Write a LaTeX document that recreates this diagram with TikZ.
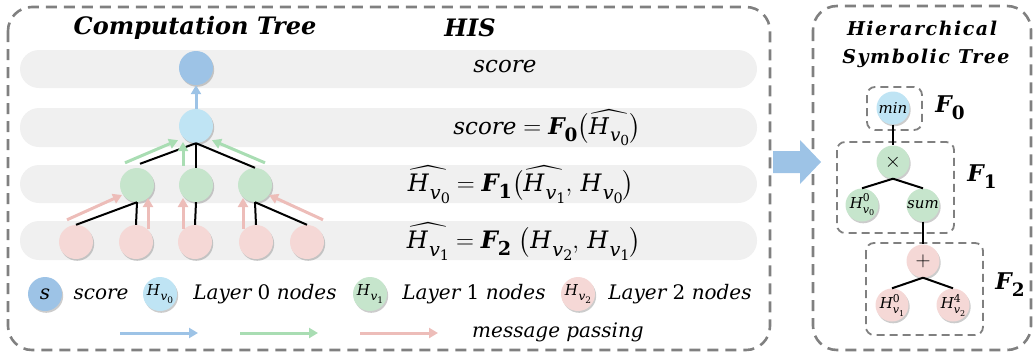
\documentclass[tikz,border=0pt]{standalone}
\usepackage{amsmath}
\usepackage{graphicx}
\usepackage{fontspec}
\setmainfont{DejaVu Serif}
\usetikzlibrary{arrows.meta,shadows}
\definecolor{cscore}{HTML}{9DC3E6}
\definecolor{cl0}{HTML}{BFE4F4}
\definecolor{cl1}{HTML}{C6E5CC}
\definecolor{cl2}{HTML}{F5D8D6}
\definecolor{aga}{HTML}{A9DDB3}
\definecolor{apa}{HTML}{EDBDB9}
\definecolor{band}{HTML}{F0F0F0}
\definecolor{dgray}{HTML}{808080}
% text-mode pieces with large subscripts
\newcommand{\Hv}[1]{\mbox{\itshape H\kern.05em\raisebox{-.32em}{\scalebox{.8}{v\raisebox{-.22em}{\scalebox{.75}{\upshape #1}}}}}}
\newcommand{\Fb}[1]{\mbox{\bfseries\itshape F\raisebox{-.3em}{\scalebox{.8}{\upshape #1}}}}
\newcommand{\hH}[1]{\widehat{\Hv{#1}}}
\newcommand{\Hvs}[2]{\mbox{\itshape H\rlap{\raisebox{.45em}{\scalebox{.72}{\upshape #1}}}\raisebox{-.32em}{\scalebox{.74}{v\raisebox{-.22em}{\scalebox{.72}{\upshape #2}}}}}}
\tikzset{
  outerbox/.style={draw=dgray,line width=2.6pt,dash pattern=on 11pt off 7pt,rounded corners=24pt},
  innerbox/.style={draw=dgray,line width=1.8pt,dash pattern=on 8pt off 5pt,rounded corners=8pt},
  bandbox/.style={fill=band,rounded corners=19pt},
  cnode/.style={circle,minimum size=34pt,inner sep=0pt,drop shadow={shadow xshift=1.2pt,shadow yshift=-1.8pt,opacity=0.4}},
  ns/.style={cnode,fill=cscore},
  n0/.style={cnode,fill=cl0},
  n1/.style={cnode,fill=cl1},
  n2/.style={cnode,fill=cl2},
  edge/.style={line width=2pt,black},
  msg/.style={line width=3pt,-{Triangle[length=9pt,width=10pt]}},
  title/.style={font=\fontsize{24}{28}\selectfont\bfseries\itshape},
  rtitle/.style={font=\fontsize{19}{22}\selectfont\bfseries\itshape\addfontfeature{LetterSpace=8}},
  eq/.style={font=\fontsize{23}{27}\selectfont},
  eqb/.style={font=\fontsize{24}{28}\selectfont},
  leg/.style={font=\fontsize{20}{24}\selectfont\itshape},
  smalllab/.style={font=\fontsize{15}{17}\selectfont},
  treelab/.style={font=\fontsize{15}{18}\selectfont},
}
\begin{document}
\begin{tikzpicture}[x=1pt,y=-1pt]
\useasboundingbox (0,0) rectangle (1036,354);
% bands
\fill[bandbox] (20,50) rectangle (757,88);
\fill[bandbox] (20,108) rectangle (757,147);
\fill[bandbox] (20,165) rectangle (757,203);
\fill[bandbox] (20,221) rectangle (757,260);
% outer boxes
\draw[outerbox] (8,7) rectangle (770,350);
\draw[outerbox] (813,6) rectangle (1031,350);
% titles
\node[title] (tct) at (195,28) {Computation Tree};
\node[title] (this) at (470,28) {HIS};
\node[rtitle] (th1) at (922,28) {Hierarchical};
\node[rtitle] (th2) at (926,58) {Symbolic Tree};
% computation tree nodes
\node[ns] (sc) at (196,68) {};
\node[n0] (l0) at (196,126) {};
\node[n1] (l1a) at (137,185) {};
\node[n1] (l1b) at (196,185) {};
\node[n1] (l1c) at (255,185) {};
\node[n2] (l2a) at (76,242) {};
\node[n2] (l2b) at (136,242) {};
\node[n2] (l2c) at (195,242) {};
\node[n2] (l2d) at (256,242) {};
\node[n2] (l2e) at (307,242) {};
% black edges
\draw[edge] (l0.south) -- ([shift={(3,-4)}]l1a.north);
\draw[edge] (l0.south) -- (l1b.north);
\draw[edge] (l0.south) -- (l1c.north);
\draw[edge] (l1a.south) -- (l2a.north);
\draw[edge] (l1a.south) -- (l2b.north);
\draw[edge] (l1b.south) -- (l2c.north);
\draw[edge] (l1c.south) -- (l2d.north);
\draw[edge] (l1c.south) -- (l2e.north);
% message arrows
\draw[msg,cscore] (l0.north) -- (sc.south);
\draw[msg,aga] ([shift={(-12,-5)}]l1a.north) -- ([shift={(-18,-3)}]l0.south);
\draw[msg,aga] ([shift={(-13,-2)}]l1b.north) -- ([shift={(-13,16)}]l0.center);
\draw[msg,aga] ([shift={(10,-5)}]l1c.north) -- ([shift={(16,-3)}]l0.south);
\draw[msg,apa] ([shift={(-9,-5)}]l2a.north) -- ([shift={(-15,10)}]l1a.center);
\draw[msg,apa] ([shift={(12,4)}]l2b.north) -- ([shift={(11,13)}]l1a.center);
\draw[msg,apa] ([shift={(-12,4)}]l2c.north) -- ([shift={(-13,13)}]l1b.center);
\draw[msg,apa] ([shift={(-13,4)}]l2d.north) -- ([shift={(-12,13)}]l1c.center);
\draw[msg,apa] ([shift={(16,-5)}]l2e.north) -- ([shift={(14,10)}]l1c.center);
% HIS formulas
\node[eq] (r1) at (505,67) {\itshape score};
\node[eq] (r2) at (547,128) {$\mbox{\itshape score} = \Fb{0}\bigl(\hH{0}\bigr)$};
\node[eqb] (r3) at (521,185) {$\hH{0} = \Fb{1}\bigl(\hH{1},\, \Hv{0}\bigr)$};
\node[eqb] (r4) at (524,242) {$\hH{1} = \Fb{2}\ \bigl(\Hv{2},\, \Hv{1}\bigr)$};
% legend
\node[ns] (lgs) at (45,294) {\fontsize{20}{24}\selectfont\itshape s};
\node[leg] (lgst) at (101,294) {score};
\node[n0,smalllab] (lg0) at (160,294) {\Hv{0}};
\node[leg] (lg0t) at (265,294) {Layer \upshape0\itshape\ nodes};
\node[n1,smalllab] (lg1) at (370,294) {\Hv{1}};
\node[leg] (lg1t) at (474,294) {Layer \upshape1\itshape\ nodes};
\node[n2,smalllab] (lg2) at (578,294) {\Hv{2}};
\node[leg] (lg2t) at (680,294) {Layer \upshape2\itshape\ nodes};
\coordinate (ab1) at (120,333); \coordinate (ab2) at (198,333);
\coordinate (ag1) at (240,333); \coordinate (ag2) at (318,333);
\coordinate (ap1) at (360,333); \coordinate (ap2) at (438,333);
\draw[msg,cscore] (ab1) -- (ab2);
\draw[msg,aga] (ag1) -- (ag2);
\draw[msg,apa] (ap1) -- (ap2);
\node[leg] (mp) at (558,332) {message passing};
% big arrow
\fill[cscore] (773,151) -- (800,151) -- (800,140) -- (821,162) -- (800,184) -- (800,173) -- (773,173) -- cycle;
% symbolic tree
\draw[innerbox] (867,87) rectangle (922,130);
\draw[innerbox] (837,142) rectangle (954,233);
\draw[innerbox] (866,243) rectangle (983,335);
\node[n0,minimum size=33pt,treelab] (tmin) at (893,108) {\itshape min};
\node[n1,minimum size=33pt] (tx) at (893,162) {\fontsize{20}{24}\selectfont$\times$};
\node[n1,minimum size=33pt,treelab] (th0) at (862,205) {\Hvs{0}{0}};
\node[n1,minimum size=33pt,treelab] (tsum) at (923,205) {\itshape sum};
\node[n2,minimum size=33pt] (tp) at (923,261) {\fontsize{20}{24}\selectfont$+$};
\node[n2,minimum size=33pt,treelab] (th1n) at (892,305) {\Hvs{0}{1}};
\node[n2,minimum size=33pt,treelab] (th4) at (953,305) {\Hvs{4}{2}};
\draw[edge] (tmin.south) -- (tx.north);
\draw[edge] (tx.south) -- (th0.north);
\draw[edge] (tx.south) -- (tsum.north);
\draw[edge] (tsum.south) -- (tp.north);
\draw[edge] (tp.south) -- (th1n.north);
\draw[edge] (tp.south) -- (th4.north);
\node[eq] (f0) at (950,108) {\Fb{0}};
\node[eq] (f1) at (982,177) {\Fb{1}};
\node[eq] (f2) at (1010,285) {\Fb{2}};
\end{tikzpicture}
\end{document}
